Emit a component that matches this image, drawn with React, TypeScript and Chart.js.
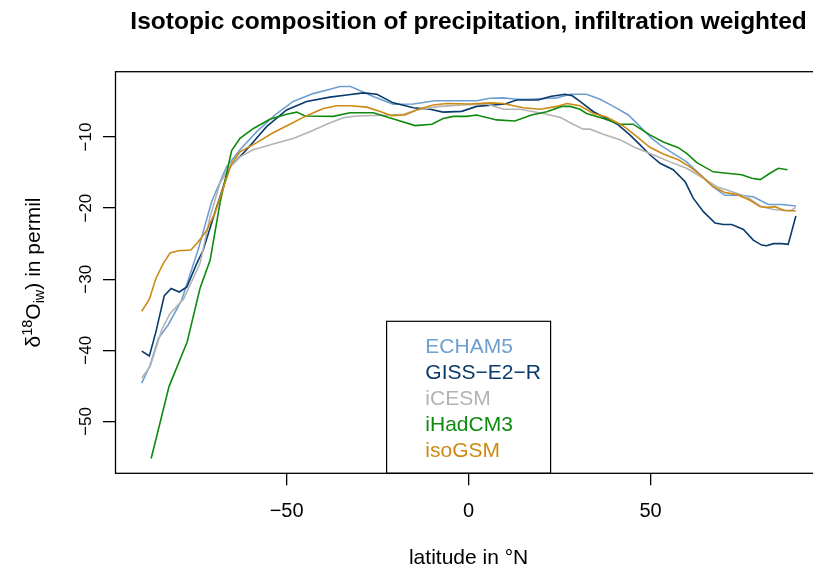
import React, { useEffect, useRef } from "react";
import { Chart, registerables } from "chart.js";

Chart.register(...registerables);

const FONT = '"Liberation Sans", Arial, Helvetica, sans-serif';

// ---- data (latitude in °N, δ18O in permil) ----
const ECHAM5_LAT = [-89.8, -87.5, -85.2, -82.5, -78.8, -74.2, -70.6, -66.5, -62.8, -58.2, -52.7, -48.2, -42.7, -38.1, -35.3, -32.4, -26.2, -20.7, -15.2, -9.2, -3.3, 2.2, 5.9, 9.5, 13.2, 16.9, 24.2, 27.9, 32.4, 36.1, 39.8, 43.9, 47.1, 50.3, 52.6, 56.2, 59.9, 63.6, 67.2, 70.4, 74.1, 78.2, 82.3, 86.0, 89.9];
const ECHAM5_D18O = [-44.6, -42.1, -38.3, -36.4, -32.9, -25.7, -19.1, -14.2, -11.8, -9.25, -6.7, -5.0, -3.9, -3.3, -2.9, -2.9, -4.3, -5.4, -5.36, -4.9, -4.9, -4.9, -4.55, -4.5, -4.7, -4.7, -4.5, -4.0, -4.0, -4.7, -5.7, -6.9, -8.55, -10.2, -11.1, -12.3, -13.5, -15.3, -17.0, -18.2, -18.2, -18.4, -19.5, -19.5, -19.7];

const GISS_LAT = [-89.8, -87.7, -85.9, -83.6, -81.7, -79.5, -77.4, -74.7, -72.9, -69.2, -65.6, -61.0, -55.5, -50.0, -44.5, -38.1, -33.5, -28.9, -25.2, -20.7, -15.2, -10.6, -7.0, -1.9, 2.2, 6.8, 10.0, 13.2, 19.1, 22.4, 26.5, 28.5, 30.6, 34.3, 37.9, 41.1, 44.3, 47.1, 49.8, 52.6, 56.2, 59.5, 61.7, 64.5, 67.7, 70.0, 72.3, 75.5, 78.2, 80.5, 81.9, 83.7, 86.0, 87.8, 89.9];
const GISS_D18O = [-40.1, -40.8, -37.4, -32.3, -31.3, -31.8, -31.1, -27.8, -25.9, -19.8, -14.2, -11.8, -8.55, -6.2, -5.0, -4.4, -4.1, -3.8, -4.0, -5.2, -5.9, -6.1, -6.5, -6.4, -5.7, -5.5, -5.36, -4.8, -4.8, -4.3, -4.0, -4.2, -5.0, -6.45, -7.4, -8.3, -9.7, -11.1, -12.5, -13.7, -14.6, -16.3, -18.6, -20.5, -22.1, -22.3, -22.3, -23.0, -24.5, -25.2, -25.3, -25.0, -25.0, -25.1, -21.1];

const ICESM_LAT = [-89.8, -87.5, -84.3, -82.0, -78.3, -73.8, -71.0, -68.3, -65.6, -62.8, -59.2, -53.7, -48.2, -43.6, -39.0, -34.4, -30.7, -21.6, -17.9, -14.3, -7.9, -1.5, 5.0, 9.5, 14.1, 20.5, 25.3, 27.9, 31.5, 33.4, 37.0, 41.6, 46.2, 50.7, 55.3, 59.9, 64.5, 68.2, 71.8, 76.4, 80.1, 83.7, 88.3, 89.9];
const ICESM_D18O = [-43.9, -42.3, -37.1, -34.8, -32.8, -27.8, -21.2, -16.5, -14.2, -12.8, -11.8, -11.0, -10.2, -9.25, -8.2, -7.3, -7.05, -6.9, -6.8, -6.2, -5.7, -5.5, -5.36, -6.1, -6.1, -6.7, -7.25, -8.0, -8.9, -8.9, -9.6, -10.4, -11.6, -12.5, -13.5, -14.4, -15.8, -17.0, -17.6, -18.4, -19.7, -20.2, -20.4, -19.9];

const IHADCM3_LAT = [-87.2, -82.3, -77.3, -73.8, -71.0, -68.3, -65.1, -62.8, -59.1, -54.6, -50.0, -47.2, -44.9, -37.2, -32.6, -26.2, -19.7, -14.7, -10.1, -7.0, -4.2, -0.5, 2.2, 7.7, 12.7, 17.3, 21.5, 25.6, 27.9, 30.6, 32.4, 37.0, 41.6, 45.2, 49.8, 53.5, 57.6, 59.9, 62.7, 67.2, 70.9, 75.0, 77.8, 80.1, 82.8, 85.1, 87.6];
const IHADCM3_D18O = [-55.2, -45.1, -38.8, -31.3, -27.3, -19.3, -11.9, -10.2, -8.8, -7.5, -6.8, -6.5, -7.05, -7.1, -6.6, -6.6, -7.6, -8.4, -8.2, -7.4, -7.1, -7.1, -6.9, -7.6, -7.75, -6.9, -6.45, -5.7, -5.7, -6.1, -6.7, -7.4, -8.2, -8.2, -9.7, -10.7, -11.5, -12.3, -13.6, -14.9, -15.1, -15.3, -15.8, -16.0, -15.1, -14.4, -14.6];

const ISOGSM_LAT = [-89.8, -87.7, -85.9, -83.9, -82.0, -79.7, -76.3, -74.2, -71.9, -69.7, -67.4, -65.1, -62.8, -58.2, -53.7, -49.1, -44.5, -39.9, -36.2, -32.6, -28.0, -24.3, -21.1, -17.5, -13.8, -9.7, -6.0, 0.4, 5.9, 9.5, 15.0, 19.6, 24.2, 27.0, 30.6, 34.3, 37.9, 42.5, 46.2, 49.8, 53.5, 57.6, 60.8, 63.6, 67.2, 70.4, 73.7, 77.3, 80.1, 82.3, 84.2, 86.5, 89.9];
const ISOGSM_D18O = [-34.5, -32.8, -29.9, -27.8, -26.3, -26.0, -25.9, -24.7, -23.1, -20.7, -17.2, -13.7, -12.1, -10.8, -9.4, -8.2, -7.0, -6.0, -5.6, -5.6, -5.8, -6.4, -7.0, -6.9, -6.1, -5.5, -5.3, -5.36, -5.2, -5.3, -5.9, -6.1, -5.7, -5.3, -5.6, -6.7, -7.2, -8.45, -9.95, -11.45, -12.4, -13.2, -14.2, -15.3, -17.0, -17.8, -18.1, -18.9, -19.8, -19.9, -19.8, -20.3, -20.4];

const SERIES_NAMES = ["ECHAM5", "GISS\u2212E2\u2212R", "iCESM", "iHadCM3", "isoGSM"];
const SERIES_COLORS = ["#6E9FD1", "#0A3A6C", "#B3B3B3", "#0F8A0F", "#CC8A14"];
const SERIES_LATS = [ECHAM5_LAT, GISS_LAT, ICESM_LAT, IHADCM3_LAT, ISOGSM_LAT];
const SERIES_VALUES = [ECHAM5_D18O, GISS_D18O, ICESM_D18O, IHADCM3_D18O, ISOGSM_D18O];

const X_TICKS = [-50, 0, 50];
const X_TICK_LABELS = ["\u221250", "0", "50"];
const Y_TICKS = [-50, -40, -30, -20, -10];
const Y_TICK_LABELS = ["\u221250", "\u221240", "\u221230", "\u221220", "\u221210"];

const TITLE = "Isotopic composition of precipitation, infiltration weighted";
const X_TITLE = "latitude in \u00B0N";

const rPlotPlugin = {
  id: "rPlot",
  afterDraw(chart: any) {
    const { ctx, chartArea: ca, scales } = chart;
    ctx.save();
    // plot box
    ctx.strokeStyle = "#000";
    ctx.lineWidth = 1.3;
    ctx.strokeRect(ca.left, ca.top, ca.right - ca.left, ca.bottom - ca.top);

    // main title, centred over the plot region
    ctx.fillStyle = "#000";
    ctx.font = `bold 24.5px ${FONT}`;
    ctx.textAlign = "center";
    ctx.textBaseline = "alphabetic";
    ctx.fillText(TITLE, (ca.left + ca.right) / 2, 29);

    // y tick labels (rotated, R style)
    const ys = scales.y;
    ctx.font = `17px ${FONT}`;
    ctx.textAlign = "center";
    ys.ticks.forEach((t: any) => {
      const idx = Y_TICKS.indexOf(t.value);
      if (idx < 0) return;
      const py = ys.getPixelForValue(t.value);
      ctx.save();
      ctx.translate(ca.left - 25, py);
      ctx.rotate(-Math.PI / 2);
      ctx.fillText(Y_TICK_LABELS[idx], 0, 0);
      ctx.restore();
    });

    // y axis title with super/subscript
    const parts = [
      { t: "\u03B4", size: 21, dy: 0 },
      { t: "18", size: 14.5, dy: -8 },
      { t: "O", size: 21, dy: 0 },
      { t: "iw", size: 14.5, dy: 4 },
      { t: ") in permil", size: 21, dy: 0 },
    ];
    let total = 0;
    const widths = parts.map((p) => {
      ctx.font = `${p.size}px ${FONT}`;
      const w = ctx.measureText(p.t).width;
      total += w;
      return w;
    });
    ctx.save();
    ctx.translate(39.5, (ca.top + ca.bottom) / 2);
    ctx.rotate(-Math.PI / 2);
    ctx.textAlign = "left";
    let cx = -total / 2;
    parts.forEach((p, i) => {
      ctx.font = `${p.size}px ${FONT}`;
      ctx.fillText(p.t, cx, p.dy);
      cx += widths[i];
    });
    ctx.restore();

    // legend box ("bottom" position)
    const boxW = 164;
    const boxH = 152;
    const cxMid = (ca.left + ca.right) / 2;
    const bl = cxMid - boxW / 2;
    const bt = ca.bottom - boxH;
    ctx.lineWidth = 1.2;
    ctx.strokeStyle = "#000";
    ctx.strokeRect(bl, bt, boxW, boxH);
    ctx.font = `21px ${FONT}`;
    ctx.textAlign = "left";
    ctx.textBaseline = "alphabetic";
    chart.data.datasets.forEach((ds: any, i: number) => {
      ctx.fillStyle = ds.borderColor;
      ctx.fillText(ds.label, bl + 38.7, bt + 32 + i * 25.85);
    });
    ctx.restore();
  },
};

export default function App() {
  const canvasRef = useRef<HTMLCanvasElement | null>(null);

  useEffect(() => {
    if (!canvasRef.current) return;
    const datasets = SERIES_NAMES.map((name, i) => ({
      label: name,
      data: SERIES_LATS[i].map((lat, j) => ({ x: lat, y: SERIES_VALUES[i][j] })),
      borderColor: SERIES_COLORS[i],
      backgroundColor: SERIES_COLORS[i],
      borderWidth: 1.6,
      pointRadius: 0,
      tension: 0,
      fill: false,
      order: SERIES_NAMES.length - i,
    }));
    const chart = new Chart(canvasRef.current, {
      type: "line",
      data: { datasets },
      plugins: [rPlotPlugin],
      options: {
        animation: false,
        responsive: false,
        devicePixelRatio: 1,
        layout: { padding: { left: 0, right: 115.3, top: 71.7, bottom: 0 } },
        plugins: {
          legend: { display: false },
          tooltip: { enabled: false },
          title: { display: false },
        },
        scales: {
          x: {
            type: "linear",
            min: -97,
            max: 97,
            afterBuildTicks: (s: any) => {
              s.ticks = X_TICKS.map((v) => ({ value: v }));
            },
            afterFit: (s: any) => {
              s.height = 97.7;
            },
            grid: { drawOnChartArea: false, drawTicks: true, tickLength: 12, color: "#000", lineWidth: 1.3 },
            border: { display: false },
            ticks: {
              autoSkip: false,
              maxRotation: 0,
              minRotation: 0,
              padding: 14,
              color: "#000",
              font: { family: FONT, size: 20 },
              callback: (v: any) => {
                const k = X_TICKS.indexOf(Number(v));
                return k >= 0 ? X_TICK_LABELS[k] : "";
              },
            },
            title: {
              display: true,
              text: X_TITLE,
              color: "#000",
              font: { family: FONT, size: 21, lineHeight: 1.2 },
              padding: { top: 0, bottom: 0 },
            },
          },
          y: {
            type: "linear",
            min: -57.29,
            max: -0.82,
            afterBuildTicks: (s: any) => {
              s.ticks = Y_TICKS.map((v) => ({ value: v }));
            },
            afterFit: (s: any) => {
              s.width = 115.5;
            },
            grid: { drawOnChartArea: false, drawTicks: true, tickLength: 12.5, color: "#000", lineWidth: 1.3 },
            border: { display: false },
            ticks: { display: false },
          },
        },
      },
    });
    return () => chart.destroy();
  }, []);

  return (
    <div style={{ position: "fixed", left: 0, top: 0, width: 813, height: 571, overflow: "hidden", background: "#fff" }}>
      <canvas ref={canvasRef} width={937} height={571} style={{ width: 937, height: 571, display: "block" }} />
    </div>
  );
}
